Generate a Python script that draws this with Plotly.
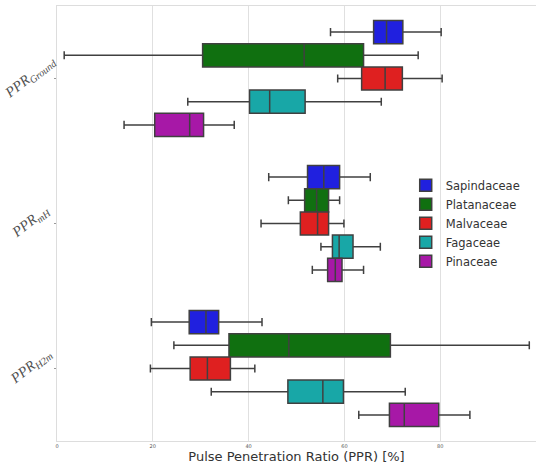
import plotly.graph_objects as go

categories = ["PPR_Ground", "PPR_mH", "PPR_H2m"]
category_labels = ["<i>PPR<sub>Ground</sub></i>", "<i>PPR<sub>mH</sub></i>", "<i>PPR<sub>H2m</sub></i>"]
families = ["Sapindaceae", "Platanaceae", "Malvaceae", "Fagaceae", "Pinaceae"]
colors = ["#2020DF", "#107010", "#DF2020", "#18A7A7", "#A718A7"]

# stats per family: [Ground, mH, H2m]
lowerfence = {
    "Sapindaceae": [57.1, 44.2, 19.7],
    "Platanaceae": [1.5, 48.3, 24.4],
    "Malvaceae":   [58.6, 42.6, 19.5],
    "Fagaceae":    [27.3, 55.1, 32.2],
    "Pinaceae":    [14.0, 53.3, 63.0],
}
q1 = {
    "Sapindaceae": [66.1, 52.3, 27.6],
    "Platanaceae": [30.4, 51.7, 35.9],
    "Malvaceae":   [63.6, 50.8, 27.8],
    "Fagaceae":    [40.2, 57.5, 48.2],
    "Pinaceae":    [20.4, 56.5, 69.4],
}
median = {
    "Sapindaceae": [68.8, 55.7, 31.1],
    "Platanaceae": [51.6, 54.2, 48.4],
    "Malvaceae":   [68.5, 54.4, 31.4],
    "Fagaceae":    [44.4, 58.9, 55.5],
    "Pinaceae":    [27.7, 58.1, 72.5],
}
q3 = {
    "Sapindaceae": [72.2, 59.0, 33.75],
    "Platanaceae": [64.0, 56.7, 69.6],
    "Malvaceae":   [72.1, 56.7, 36.2],
    "Fagaceae":    [51.8, 61.8, 59.8],
    "Pinaceae":    [30.6, 59.5, 79.7],
}
upperfence = {
    "Sapindaceae": [80.2, 65.4, 42.8],
    "Platanaceae": [75.4, 59.0, 98.6],
    "Malvaceae":   [80.4, 59.9, 41.3],
    "Fagaceae":    [67.7, 67.5, 72.7],
    "Pinaceae":    [37.0, 64.0, 86.2],
}
x_ticks = [0, 20, 40, 60, 80, 100]

fig = go.Figure()
for fam, col in zip(families, colors):
    fig.add_trace(go.Box(
        name=fam,
        y=categories,
        q1=q1[fam], median=median[fam], q3=q3[fam],
        lowerfence=lowerfence[fam], upperfence=upperfence[fam],
        orientation="h",
        fillcolor=col,
        line=dict(color="#404040", width=1.5),
        whiskerwidth=0.35,
        boxpoints=False,
    ))

# rotated category labels, centred on their ticks (matplotlib-style)
for cat, lab in zip(categories, category_labels):
    fig.add_annotation(
        x=-0.056, xref="paper", xanchor="center",
        y=cat, yref="y", yanchor="middle", yshift=2,
        text=lab, textangle=-38, showarrow=False,
        font=dict(family="Liberation Serif", size=14.5, color="#505050"),
    )

fig.update_layout(
    width=536, height=464,
    margin=dict(l=57, r=0, t=6, b=23),
    paper_bgcolor="white", plot_bgcolor="white",
    boxmode="group", boxgap=0.2, boxgroupgap=0,
    font=dict(family="DejaVu Sans", color="#333333"),
    showlegend=True,
    legend=dict(x=0.728, y=0.621, xanchor="left", yanchor="top",
                font=dict(size=11.5, color="#333333"),
                bgcolor="rgba(0,0,0,0)", tracegroupgap=0),
    xaxis=dict(range=[0, 100], tickvals=x_ticks, ticktext=[str(v) for v in x_ticks],
               tickfont=dict(size=5, color="#555555"),
               showgrid=True, gridcolor="#e0e0e0", gridwidth=1,
               showline=True, linecolor="#dddddd", linewidth=1, mirror=True,
               zeroline=False, ticks="", automargin=False,
               title=dict(text="Pulse Penetration Ratio (PPR) [%]",
                          font=dict(size=13, color="#333333"), standoff=4)),
    yaxis=dict(autorange="reversed", type="category", categoryorder="array",
               categoryarray=categories, showticklabels=False, automargin=False,
               showgrid=False, showline=True, linecolor="#dddddd", linewidth=1,
               ticks="outside", ticklen=2, tickcolor="#999999", zeroline=False),
)

fig.write_html("out.html", config={"displayModeBar": False},
               post_script="document.body.style.margin='0';")
